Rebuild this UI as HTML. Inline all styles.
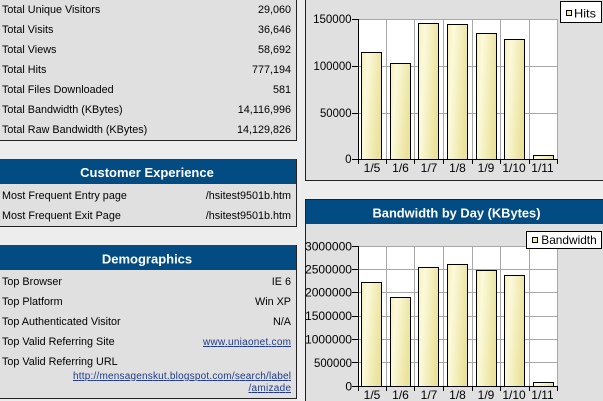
<!DOCTYPE html>
<html>
<head>
<meta charset="utf-8">
<style>
html,body{margin:0;padding:0;background:#ededed;}
svg{display:block;}
text{font-family:"Liberation Sans",Arial,sans-serif;}
</style>
</head>
<body>
<svg width="603" height="401" viewBox="0 0 603 401" xmlns="http://www.w3.org/2000/svg">
<defs>
<linearGradient id="bar" x1="0" y1="0" x2="1" y2="0.3">
<stop offset="0" stop-color="#f6f0b8"/>
<stop offset="0.3" stop-color="#fcf9dc"/>
<stop offset="1" stop-color="#ebe39c"/>
</linearGradient>
</defs>
<rect x="0" y="0" width="603" height="401" fill="#ededed"/>

<!-- LEFT: stats panel -->
<rect x="-2" y="-2" width="298.5" height="142.5" fill="#e0e0e0" stroke="#222" stroke-width="1"/>
<g font-size="10.8" fill="#000">
<text x="2" y="13">Total Unique Visitors</text><text x="291" y="13" text-anchor="end">29,060</text>
<text x="2" y="33">Total Visits</text><text x="291" y="33" text-anchor="end">36,646</text>
<text x="2" y="53">Total Views</text><text x="291" y="53" text-anchor="end">58,692</text>
<text x="2" y="73">Total Hits</text><text x="291" y="73" text-anchor="end">777,194</text>
<text x="2" y="93">Total Files Downloaded</text><text x="291" y="93" text-anchor="end">581</text>
<text x="2" y="113">Total Bandwidth (KBytes)</text><text x="291" y="113" text-anchor="end">14,116,996</text>
<text x="2" y="133">Total Raw Bandwidth (KBytes)</text><text x="291" y="133" text-anchor="end">14,129,826</text>
</g>

<!-- LEFT: Customer Experience -->
<rect x="-2" y="159.5" width="298.5" height="67" fill="#e0e0e0" stroke="#222" stroke-width="1"/>
<rect x="-2" y="159" width="298" height="25" fill="#024b83"/>
<text x="147" y="177" font-size="13" font-weight="bold" fill="#fff" text-anchor="middle">Customer Experience</text>
<g font-size="10.8" fill="#000">
<text x="2" y="199">Most Frequent Entry page</text><text x="291" y="199" text-anchor="end">/hsitest9501b.htm</text>
<text x="2" y="219">Most Frequent Exit Page</text><text x="291" y="219" text-anchor="end">/hsitest9501b.htm</text>
</g>

<!-- LEFT: Demographics -->
<rect x="-2" y="245.5" width="298.5" height="153" fill="#e0e0e0" stroke="#222" stroke-width="1"/>
<rect x="-2" y="245" width="298" height="25" fill="#024b83"/>
<text x="147" y="263.5" font-size="13" font-weight="bold" fill="#fff" text-anchor="middle">Demographics</text>
<g font-size="10.8" fill="#000">
<text x="2" y="285">Top Browser</text><text x="291" y="285" text-anchor="end">IE 6</text>
<text x="2" y="305">Top Platform</text><text x="291" y="305" text-anchor="end">Win XP</text>
<text x="2" y="325">Top Authenticated Visitor</text><text x="291" y="325" text-anchor="end">N/A</text>
<text x="2" y="345">Top Valid Referring Site</text>
<text x="2" y="365">Top Valid Referring URL</text>
</g>
<g font-size="10" fill="#1f3a8a" text-decoration="underline">
<text x="203" y="345" textLength="88" lengthAdjust="spacing">www.uniaonet.com</text>
<text x="73" y="379" textLength="218" lengthAdjust="spacing">http://mensagenskut.blogspot.com/search/label</text>
<text x="248.5" y="391" textLength="42.5" lengthAdjust="spacing">/amizade</text>
</g>

<!-- RIGHT: Hits chart panel -->
<rect x="305.5" y="-2" width="300" height="182.5" fill="#e0e0e0" stroke="#222" stroke-width="1"/>
<rect x="358" y="19" width="200" height="140" fill="#fff"/>
<g stroke="#a8a8a8" stroke-width="1">
<line x1="386.5" y1="19" x2="386.5" y2="159"/>
<line x1="414.5" y1="19" x2="414.5" y2="159"/>
<line x1="443.5" y1="19" x2="443.5" y2="159"/>
<line x1="472.5" y1="19" x2="472.5" y2="159"/>
<line x1="500.5" y1="19" x2="500.5" y2="159"/>
<line x1="529.5" y1="19" x2="529.5" y2="159"/>
<line x1="557.5" y1="19" x2="557.5" y2="159"/>
<line x1="358" y1="19.5" x2="558" y2="19.5"/>
<line x1="358" y1="66.5" x2="558" y2="66.5"/>
<line x1="358" y1="113.5" x2="558" y2="113.5"/>
</g>
<g fill="url(#bar)" stroke="#000" stroke-width="1">
<rect x="361.5" y="52.5" width="20" height="107"/>
<rect x="390.5" y="63.5" width="20" height="96"/>
<rect x="418.5" y="23.5" width="20" height="136"/>
<rect x="447.5" y="24.5" width="20" height="135"/>
<rect x="476.5" y="33.5" width="20" height="126"/>
<rect x="504.5" y="39.5" width="20" height="120"/>
<rect x="533.5" y="155.5" width="20" height="4"/>
</g>
<g stroke="#000" stroke-width="1">
<line x1="358.5" y1="19" x2="358.5" y2="160"/>
<line x1="358" y1="159.5" x2="558" y2="159.5"/>
<line x1="352" y1="19.5" x2="358" y2="19.5"/>
<line x1="352" y1="66.5" x2="358" y2="66.5"/>
<line x1="352" y1="113.5" x2="358" y2="113.5"/>
<line x1="352" y1="159.5" x2="358" y2="159.5"/>
<line x1="358.5" y1="159" x2="358.5" y2="164"/>
<line x1="386.5" y1="159" x2="386.5" y2="164"/>
<line x1="414.5" y1="159" x2="414.5" y2="164"/>
<line x1="443.5" y1="159" x2="443.5" y2="164"/>
<line x1="472.5" y1="159" x2="472.5" y2="164"/>
<line x1="500.5" y1="159" x2="500.5" y2="164"/>
<line x1="529.5" y1="159" x2="529.5" y2="164"/>
<line x1="557.5" y1="159" x2="557.5" y2="164"/>
</g>
<g font-size="11.5" fill="#000" text-anchor="end">
<text x="351.5" y="23" textLength="38.4" lengthAdjust="spacingAndGlyphs">150000</text>
<text x="351.5" y="70" textLength="38" lengthAdjust="spacingAndGlyphs">100000</text>
<text x="351.5" y="117" textLength="31.5" lengthAdjust="spacingAndGlyphs">50000</text>
<text x="351.5" y="163">0</text>
</g>
<g font-size="12" fill="#000" text-anchor="middle">
<text x="372" y="172">1/5</text>
<text x="400.5" y="172">1/6</text>
<text x="429" y="172">1/7</text>
<text x="457.5" y="172">1/8</text>
<text x="486" y="172">1/9</text>
<text x="514" y="172">1/10</text>
<text x="542.5" y="172">1/11</text>
</g>
<rect x="560.5" y="1.5" width="41" height="21" fill="#fff" stroke="#000" stroke-width="1"/>
<rect x="566.5" y="10.5" width="5" height="5" fill="#f3eba8" stroke="#000" stroke-width="1"/>
<text x="574" y="17.5" font-size="12" fill="#000" textLength="22" lengthAdjust="spacingAndGlyphs">Hits</text>

<!-- RIGHT: Bandwidth chart panel -->
<rect x="305.5" y="199.5" width="300" height="205" fill="#e0e0e0" stroke="#222" stroke-width="1"/>
<rect x="306" y="200" width="297" height="24" fill="#024b83"/>
<text x="456.5" y="217.5" font-size="13" font-weight="bold" fill="#fff" text-anchor="middle" textLength="168" lengthAdjust="spacingAndGlyphs">Bandwidth by Day (KBytes)</text>
<rect x="358" y="246" width="200" height="140" fill="#fff"/>
<g stroke="#a8a8a8" stroke-width="1">
<line x1="386.5" y1="246" x2="386.5" y2="386"/>
<line x1="414.5" y1="246" x2="414.5" y2="386"/>
<line x1="443.5" y1="246" x2="443.5" y2="386"/>
<line x1="472.5" y1="246" x2="472.5" y2="386"/>
<line x1="500.5" y1="246" x2="500.5" y2="386"/>
<line x1="529.5" y1="246" x2="529.5" y2="386"/>
<line x1="557.5" y1="246" x2="557.5" y2="386"/>
<line x1="358" y1="246.5" x2="558" y2="246.5"/>
<line x1="358" y1="269.5" x2="558" y2="269.5"/>
<line x1="358" y1="292.5" x2="558" y2="292.5"/>
<line x1="358" y1="316.5" x2="558" y2="316.5"/>
<line x1="358" y1="339.5" x2="558" y2="339.5"/>
<line x1="358" y1="362.5" x2="558" y2="362.5"/>
</g>
<g fill="url(#bar)" stroke="#000" stroke-width="1">
<rect x="361.5" y="282.5" width="20" height="104"/>
<rect x="390.5" y="297.5" width="20" height="89"/>
<rect x="418.5" y="267.5" width="20" height="119"/>
<rect x="447.5" y="264.5" width="20" height="122"/>
<rect x="476.5" y="270.5" width="20" height="116"/>
<rect x="504.5" y="275.5" width="20" height="111"/>
<rect x="533.5" y="382.5" width="20" height="4"/>
</g>
<g stroke="#000" stroke-width="1">
<line x1="358.5" y1="246" x2="358.5" y2="387"/>
<line x1="358" y1="386.5" x2="558" y2="386.5"/>
<line x1="352" y1="246.5" x2="358" y2="246.5"/>
<line x1="352" y1="269.5" x2="358" y2="269.5"/>
<line x1="352" y1="292.5" x2="358" y2="292.5"/>
<line x1="352" y1="316.5" x2="358" y2="316.5"/>
<line x1="352" y1="339.5" x2="358" y2="339.5"/>
<line x1="352" y1="362.5" x2="358" y2="362.5"/>
<line x1="352" y1="386.5" x2="358" y2="386.5"/>
<line x1="358.5" y1="386" x2="358.5" y2="391"/>
<line x1="386.5" y1="386" x2="386.5" y2="391"/>
<line x1="414.5" y1="386" x2="414.5" y2="391"/>
<line x1="443.5" y1="386" x2="443.5" y2="391"/>
<line x1="472.5" y1="386" x2="472.5" y2="391"/>
<line x1="500.5" y1="386" x2="500.5" y2="391"/>
<line x1="529.5" y1="386" x2="529.5" y2="391"/>
<line x1="557.5" y1="386" x2="557.5" y2="391"/>
</g>
<g font-size="12" fill="#000" text-anchor="end">
<text x="352" y="250.5" textLength="47" lengthAdjust="spacingAndGlyphs">3000000</text>
<text x="352" y="273.5" textLength="47" lengthAdjust="spacingAndGlyphs">2500000</text>
<text x="352" y="296.5" textLength="47" lengthAdjust="spacingAndGlyphs">2000000</text>
<text x="352" y="320" textLength="47" lengthAdjust="spacingAndGlyphs">1500000</text>
<text x="352" y="343.5" textLength="47" lengthAdjust="spacingAndGlyphs">1000000</text>
<text x="352" y="367" textLength="38" lengthAdjust="spacingAndGlyphs">500000</text>
<text x="352" y="390.5">0</text>
</g>
<g font-size="12" fill="#000" text-anchor="middle">
<text x="372" y="399">1/5</text>
<text x="400.5" y="399">1/6</text>
<text x="429" y="399">1/7</text>
<text x="457.5" y="399">1/8</text>
<text x="486" y="399">1/9</text>
<text x="514" y="399">1/10</text>
<text x="542.5" y="399">1/11</text>
</g>
<rect x="526.5" y="231.5" width="75" height="17" fill="#fff" stroke="#000" stroke-width="1"/>
<rect x="532.5" y="237.5" width="5" height="5" fill="#f3eba8" stroke="#000" stroke-width="1"/>
<text x="541.3" y="244" font-size="12" fill="#000" textLength="55.4" lengthAdjust="spacingAndGlyphs">Bandwidth</text>
</svg>
</body>
</html>
